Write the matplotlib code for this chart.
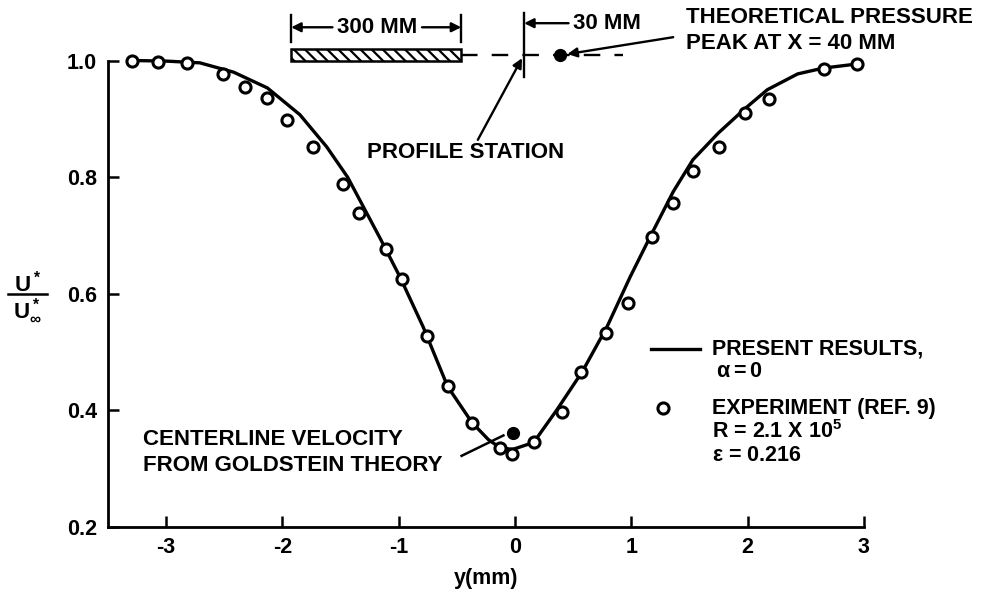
import matplotlib.pyplot as plt
from matplotlib.patches import Rectangle

plt.rcParams['font.family'] = ['Liberation Sans', 'DejaVu Sans']
plt.rcParams['font.weight'] = 'bold'
plt.rcParams['mathtext.fontset'] = 'custom'
plt.rcParams['mathtext.rm'] = 'Liberation Sans:bold'
plt.rcParams['mathtext.it'] = 'Liberation Sans:bold'
plt.rcParams['mathtext.bf'] = 'Liberation Sans:bold'
plt.rcParams['hatch.linewidth'] = 1.6

# present results (solid curve)
curve_y_mm = [-3.29, -3.0, -2.71, -2.42, -2.13, -1.85, -1.62, -1.44, -1.16, -0.99,
              -0.79, -0.58, -0.37, -0.23, -0.13, -0.02, 0.16, 0.36, 0.58, 0.79,
              0.99, 1.16, 1.36, 1.53, 1.75, 1.98, 2.17, 2.43, 2.65, 2.94]
curve_u = [1.0, 0.999, 0.996, 0.98, 0.953, 0.907, 0.852, 0.800, 0.695, 0.629,
           0.543, 0.441, 0.379, 0.350, 0.336, 0.333, 0.345, 0.401, 0.467, 0.543,
           0.629, 0.697, 0.775, 0.830, 0.876, 0.918, 0.950, 0.977, 0.987, 0.994]

# experiment (ref. 9)
exp_y_mm = [-3.29, -3.07, -2.82, -2.51, -2.32, -2.13, -1.96, -1.74, -1.48, -1.34,
            -1.11, -0.97, -0.76, -0.58, -0.37, -0.13, -0.03, 0.16, 0.40, 0.57,
            0.78, 0.97, 1.18, 1.36, 1.53, 1.75, 1.98, 2.18, 2.66, 2.94]
exp_u = [1.0, 0.997, 0.996, 0.977, 0.955, 0.936, 0.898, 0.852, 0.788, 0.738,
         0.677, 0.626, 0.527, 0.441, 0.379, 0.336, 0.326, 0.345, 0.398, 0.465,
         0.533, 0.584, 0.697, 0.755, 0.811, 0.852, 0.910, 0.934, 0.985, 0.994]

# centerline velocity from Goldstein theory
goldstein_y = [-0.02]
goldstein_u = [0.362]

fig = plt.figure(figsize=(9.92, 5.95), dpi=100)
ax = fig.add_axes([0.1089, 0.1143, 0.762, 0.784])

ax.plot(curve_y_mm, curve_u, color='black', lw=2.4, clip_on=False, zorder=3,
        solid_joinstyle='round')
ax.plot(exp_y_mm, exp_u, 'o', mfc='white', mec='black', ms=8, mew=2.2,
        clip_on=False, zorder=4)
ax.plot(goldstein_y, goldstein_u, 'o', color='black', ms=8.5, clip_on=False, zorder=5)

ax.set_xlim(-3.5, 3.0)
ax.set_ylim(0.2, 1.0)
ax.set_xticks([-3, -2, -1, 0, 1, 2, 3])
ax.set_xticklabels(['-3', '-2', '-1', '0', '1', '2', '3'])
ax.set_yticks([0.2, 0.4, 0.6, 0.8, 1.0])
ax.set_yticklabels(['0.2', '0.4', '0.6', '0.8', '1.0'])
ax.tick_params(direction='in', length=8, width=1.8, labelsize=15.5)
ax.tick_params(axis='x', pad=7)
ax.tick_params(axis='y', pad=8)
for s in ['top', 'right']:
    ax.spines[s].set_visible(False)
for s in ['left', 'bottom']:
    ax.spines[s].set_linewidth(2.0)

ax.set_xlabel('y(mm)', fontsize=15.5, fontweight='bold')
ax.xaxis.set_label_coords(0.5, -0.088)

# y label as a fraction
ytr = ax.get_yaxis_transform()
ax.text(-0.107, 0.618, r'$\mathrm{U^*}$', transform=ytr,
        ha='center', va='center', fontsize=16, clip_on=False)
ax.text(-0.107, 0.571, r'$\mathrm{U^*_\infty}$', transform=ytr,
        ha='center', va='center', fontsize=16, clip_on=False)
ax.plot([-0.132, -0.081], [0.599, 0.599], color='black', lw=1.8,
        transform=ytr, clip_on=False)

# legend
ax.plot([1.17, 1.59], [0.506, 0.506], color='black', lw=2.4, clip_on=False)
ax.plot([1.273], [0.404], 'o', mfc='white', mec='black', ms=8, mew=2.2)
leg_kw = dict(fontsize=15.5, ha='left', va='center')
ax.text(1.69, 0.506, 'PRESENT RESULTS,', **leg_kw)
ax.text(1.73, 0.466, r'$\alpha = 0$', **leg_kw)
ax.text(1.69, 0.404, 'EXPERIMENT (REF. 9)', **leg_kw)
ax.text(1.69, 0.363, r'R = 2.1 X 10$^5$', **leg_kw)
ax.text(1.69, 0.322, r'$\epsilon$ = 0.216', **leg_kw)

# centerline annotation
ax.text(-3.20, 0.350, 'CENTERLINE VELOCITY', fontsize=16, ha='left', va='center')
ax.text(-3.20, 0.305, 'FROM GOLDSTEIN THEORY', fontsize=16, ha='left', va='center')
ax.plot([-0.46, -0.10], [0.322, 0.357], color='black', lw=1.8)

# plate sketch above the plot
plate = Rectangle((-1.925, 0.9991), 1.462, 0.0206, facecolor='white',
                  edgecolor='black', lw=1.8, hatch='\\\\\\', clip_on=False, zorder=2)
ax.add_patch(plate)
ax.plot([-0.463, 0.93], [1.0094, 1.0094], color='black', lw=1.7,
        dashes=(7, 6), clip_on=False)
ax.plot([0.078, 0.078], [0.972, 1.081], color='black', lw=1.7, clip_on=False)
ax.plot([0.388], [1.0094], 'o', color='black', ms=8.5, clip_on=False)

# 300 MM dimension
for xb in [-1.925, -0.463]:
    ax.plot([xb, xb], [1.032, 1.078], color='black', lw=1.7, clip_on=False)
arrow = dict(arrowstyle='-|>', color='black', lw=1.7, mutation_scale=14,
             shrinkA=0, shrinkB=0)
ax.annotate('', xy=(-1.925, 1.057), xytext=(-1.57, 1.057), arrowprops=arrow,
            annotation_clip=False)
ax.annotate('', xy=(-0.463, 1.057), xytext=(-0.80, 1.057), arrowprops=arrow,
            annotation_clip=False)
ax.text(-1.19, 1.057, '300 MM', fontsize=16, ha='center', va='center')

# 30 MM dimension
ax.annotate('', xy=(0.078, 1.064), xytext=(0.46, 1.064), arrowprops=arrow,
            annotation_clip=False)
ax.text(0.50, 1.064, '30 MM', fontsize=16, ha='left', va='center')

# theoretical pressure peak
ax.annotate('', xy=(0.45, 1.011), xytext=(1.36, 1.040), arrowprops=arrow,
            annotation_clip=False)
ax.text(1.47, 1.073, 'THEORETICAL PRESSURE', fontsize=16, ha='left', va='center')
ax.text(1.47, 1.030, 'PEAK AT X = 40 MM', fontsize=16, ha='left', va='center')

# profile station
ax.annotate('', xy=(0.06, 1.004), xytext=(-0.32, 0.864), arrowprops=arrow,
            annotation_clip=False)
ax.text(-1.27, 0.842, 'PROFILE STATION', fontsize=16, ha='left', va='center')

fig.savefig('out.png', dpi=100)
